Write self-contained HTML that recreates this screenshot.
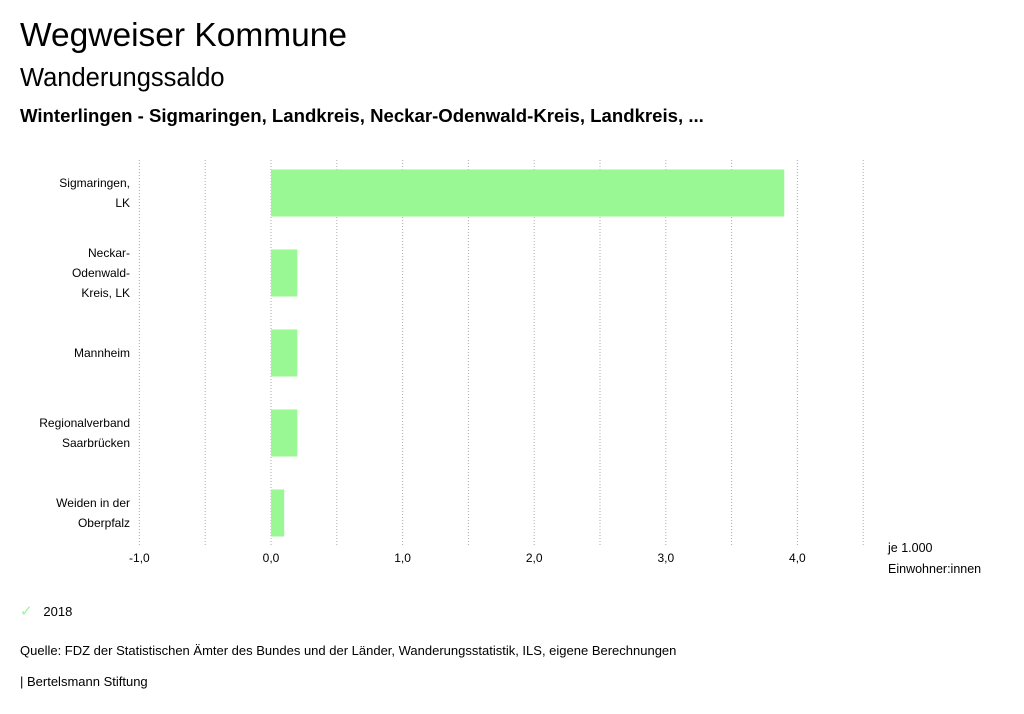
<!DOCTYPE html>
<html><head><meta charset="utf-8"><style>
body{margin:0;width:1024px;height:714px;background:#fff;font-family:"Liberation Sans",sans-serif;color:#000;overflow:hidden;position:relative}
.t{position:absolute;white-space:nowrap}
</style></head><body>
<div class="t" style="left:20px;top:17px;font-size:33.5px">Wegweiser Kommune</div>
<div class="t" style="left:20px;top:64px;font-size:25.5px">Wanderungssaldo</div>
<div class="t" style="left:20px;top:105px;font-size:18.6px;font-weight:bold">Winterlingen - Sigmaringen, Landkreis, Neckar-Odenwald-Kreis, Landkreis, ...</div>
<svg id="c" width="1024" height="714" style="position:absolute;left:0;top:0"></svg>
<div class="t" style="left:20px;top:602px;font-size:13px"><span style="color:#99f794;font-size:15px">✓</span>&nbsp;&nbsp;&nbsp;2018</div>
<div class="t" style="left:20px;top:643px;font-size:13px">Quelle: FDZ der Statistischen Ämter des Bundes und der Länder, Wanderungsstatistik, ILS, eigene Berechnungen</div>
<div class="t" style="left:20px;top:674px;font-size:13px">| Bertelsmann Stiftung</div>
<script>
const categories=[["Sigmaringen,","LK"],["Neckar-","Odenwald-","Kreis, LK"],["Mannheim"],["Regionalverband","Saarbrücken"],["Weiden in der","Oberpfalz"]];
const values=[3.9,0.2,0.2,0.2,0.1];
const ticks=[-1,0,1,2,3,4];
const tickLabels=["-1,0","0,0","1,0","2,0","3,0","4,0"];
const svg=document.getElementById('c');const NS='http://www.w3.org/2000/svg';
const x=v=>271+(v)*131.6;
const top0=160,band=80;
function el(t,a){const e=document.createElementNS(NS,t);for(const k in a)e.setAttribute(k,a[k]);svg.appendChild(e);return e;}
for(let g=-1;g<=4.5;g+=0.5){const l=el('line',{x1:x(g),x2:x(g),y1:160,y2:545,stroke:'#aaa','stroke-dasharray':'1,2','stroke-width':1});

}
ticks.forEach((t,i)=>{const tx=el('text',{x:x(t),y:562,'text-anchor':'middle','font-size':12,'font-family':'Liberation Sans'});tx.textContent=tickLabels[i];

});
values.forEach((v,i)=>{const yc=top0+band*i+band/2-7;
const r=el('rect',{x:Math.min(x(0),x(v)),y:yc-23.5,width:Math.abs(x(v)-x(0)),height:47,fill:'#99f794'});


const lines=categories[i];lines.forEach((s,j)=>{const t=el('text',{x:130,y:yc+4+(j-(lines.length-1)/2)*20,'text-anchor':'end','font-size':12,'font-family':'Liberation Sans'});t.textContent=s;

});});
[["je 1.000",552],["Einwohner:innen",573]].forEach(a=>{const t=el('text',{x:888,y:a[1],'font-size':12.5,'font-family':'Liberation Sans'});t.textContent=a[0];

});
</script>
</body></html>
